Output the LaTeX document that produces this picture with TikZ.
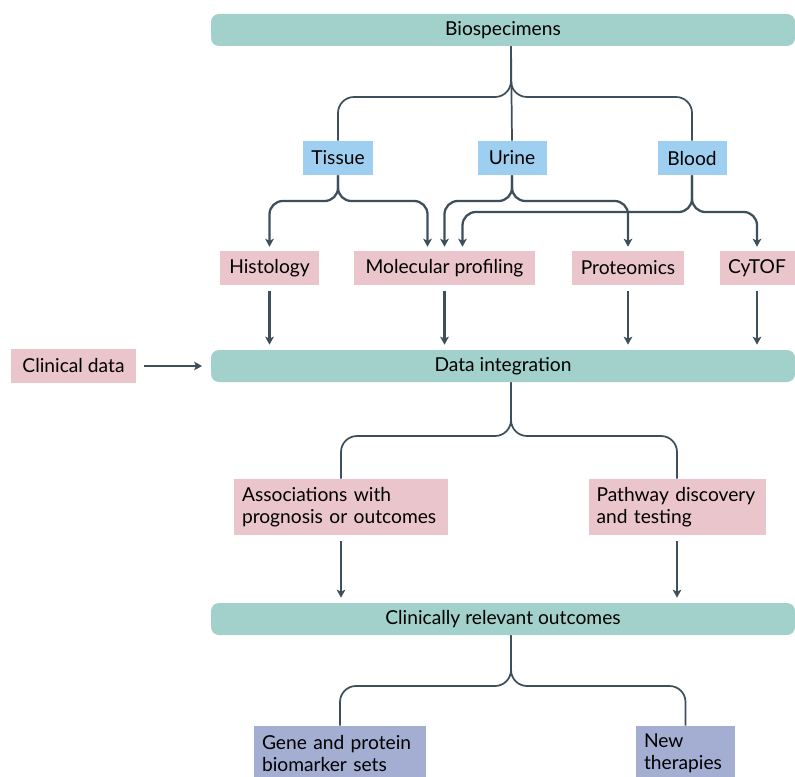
\documentclass[tikz,border=0pt]{standalone}
\usepackage{fontspec}
\setmainfont{Lato}
\usepackage{xcolor}
\usepackage{tikz}
\usetikzlibrary{arrows.meta, calc}

\definecolor{barteal}{HTML}{A1D1CA}
\definecolor{sampleblue}{HTML}{9ECFF0}
\definecolor{methodpink}{HTML}{EBC5CC}
\definecolor{resultpurple}{HTML}{A4ADD2}
\definecolor{linkslate}{HTML}{3D4F5B}

\begin{document}
\begin{tikzpicture}[
    x=0.75pt, y=-0.75pt,
    font=\fontsize{14.4}{16.5}\selectfont,
    bar/.style={rectangle, rounded corners=6pt, fill=barteal, minimum width=438pt, minimum height=24pt, inner sep=0pt},
    sample/.style={rectangle, fill=sampleblue, minimum height=25.5pt, inner sep=0pt},
    method/.style={rectangle, fill=methodpink, minimum height=25.5pt, inner sep=0pt},
    method2/.style={rectangle, fill=methodpink, minimum height=42pt, inner xsep=6pt, align=left},
    result/.style={rectangle, fill=resultpurple, minimum height=40.5pt, inner xsep=6pt, align=left},
    branch/.style={draw=linkslate, line width=1.3pt, rounded corners=12pt},
    link/.style={draw=linkslate, line width=1.7pt, rounded corners=10pt, -{Stealth[length=6pt, width=6.5pt, inset=1.5pt]}, shorten >=3pt},
    flow/.style={draw=linkslate, line width=1.7pt, -{Stealth[length=6pt, width=6.5pt, inset=1.5pt]}, shorten <=4.5pt, shorten >=3.8pt}
]
\useasboundingbox (0,0) rectangle (795,777);

% split levels
\coordinate (trunk) at (511,0);
\coordinate (split1) at (0,97);
\coordinate (split2) at (0,201);
\coordinate (split3) at (0,212);
\coordinate (split4) at (0,436);
\coordinate (split5) at (0,686);

% biospecimens
\node[bar] (bio) at (503,30) {Biospecimens};
\node[sample, minimum width=52.5pt] (tissue) at (338,158) {Tissue};
\node[sample, minimum width=51.75pt] (urine) at (512,158) {Urine};
\node[sample, minimum width=51.75pt] (blood) at (692,158) {Blood};

% assays
\node[method, minimum width=74.25pt] (histo) at (269.5,268) {Histology};
\node[method, minimum width=135.75pt] (molprof) at (444.5,268) {Molecular profiling};
\node[method, minimum width=84pt] (proteo) at (628,268) {Proteomics};
\node[method, minimum width=56.25pt] (cytof) at (757,268) {CyTOF};
\coordinate (mpT) at ($(molprof.north)+(-17,0)$);
\coordinate (mpB) at ($(molprof.north)+(18,0)$);

% data integration
\node[bar] (integ) at (503,366) {Data integration};
\node[method, minimum width=93.75pt] (clin) at (73.5,366) {Clinical data};

% analyses
\node[method2, text width=148.5pt] (assoc) at (341,507) {Associations with\\prognosis or outcomes};
\node[method2, text width=120.75pt] (pathway) at (677,507) {Pathway discovery\\and testing};

% outcomes
\node[bar] (outcomes) at (503,619) {Clinically relevant outcomes};
\node[result, text width=117pt] (gene) at (340,753) {Gene and protein\\biomarker sets};
\node[result, text width=62.25pt] (newther) at (685.5,753) {New\\therapies};

% Relationships
\draw[branch] (bio.south -| trunk) -- (urine.north);
\draw[branch] (bio.south -| trunk) |- (split1 -| tissue) -- (tissue.north);
\draw[branch] (bio.south -| trunk) |- (split1 -| blood) -- (blood.north);

\draw[link] (tissue.south) |- (split2 -| histo) -- (histo.north);
\draw[link] (tissue.south) |- (split2 -| mpT) -- (mpT);
\draw[link] (urine.south) |- (split2 -| molprof) -- (molprof.north);
\draw[link] (urine.south) |- (split2 -| proteo) -- (proteo.north);
\draw[link] (blood.south) |- (split3 -| mpB) -- (mpB);
\draw[link] (blood.south) |- (split3 -| cytof) -- (cytof.north);

\foreach \m in {histo, molprof, proteo, cytof}
    \draw[flow] (\m.south) -- (\m.south |- integ.north);
\draw[flow, shorten <=6pt, shorten >=6.5pt] (clin.east) -- (integ.west);

\draw[branch] (integ.south -| trunk) |- (split4 -| assoc) -- (assoc.north);
\draw[branch] (integ.south -| trunk) |- (split4 -| pathway) -- (pathway.north);
\draw[flow] (assoc.south) -- (assoc.south |- outcomes.north);
\draw[flow] (pathway.south) -- (pathway.south |- outcomes.north);

\draw[branch] (outcomes.south -| trunk) |- (split5 -| gene) -- (gene.north);
\draw[branch] (outcomes.south -| trunk) |- (split5 -| newther) -- (newther.north);

\end{tikzpicture}
\end{document}
